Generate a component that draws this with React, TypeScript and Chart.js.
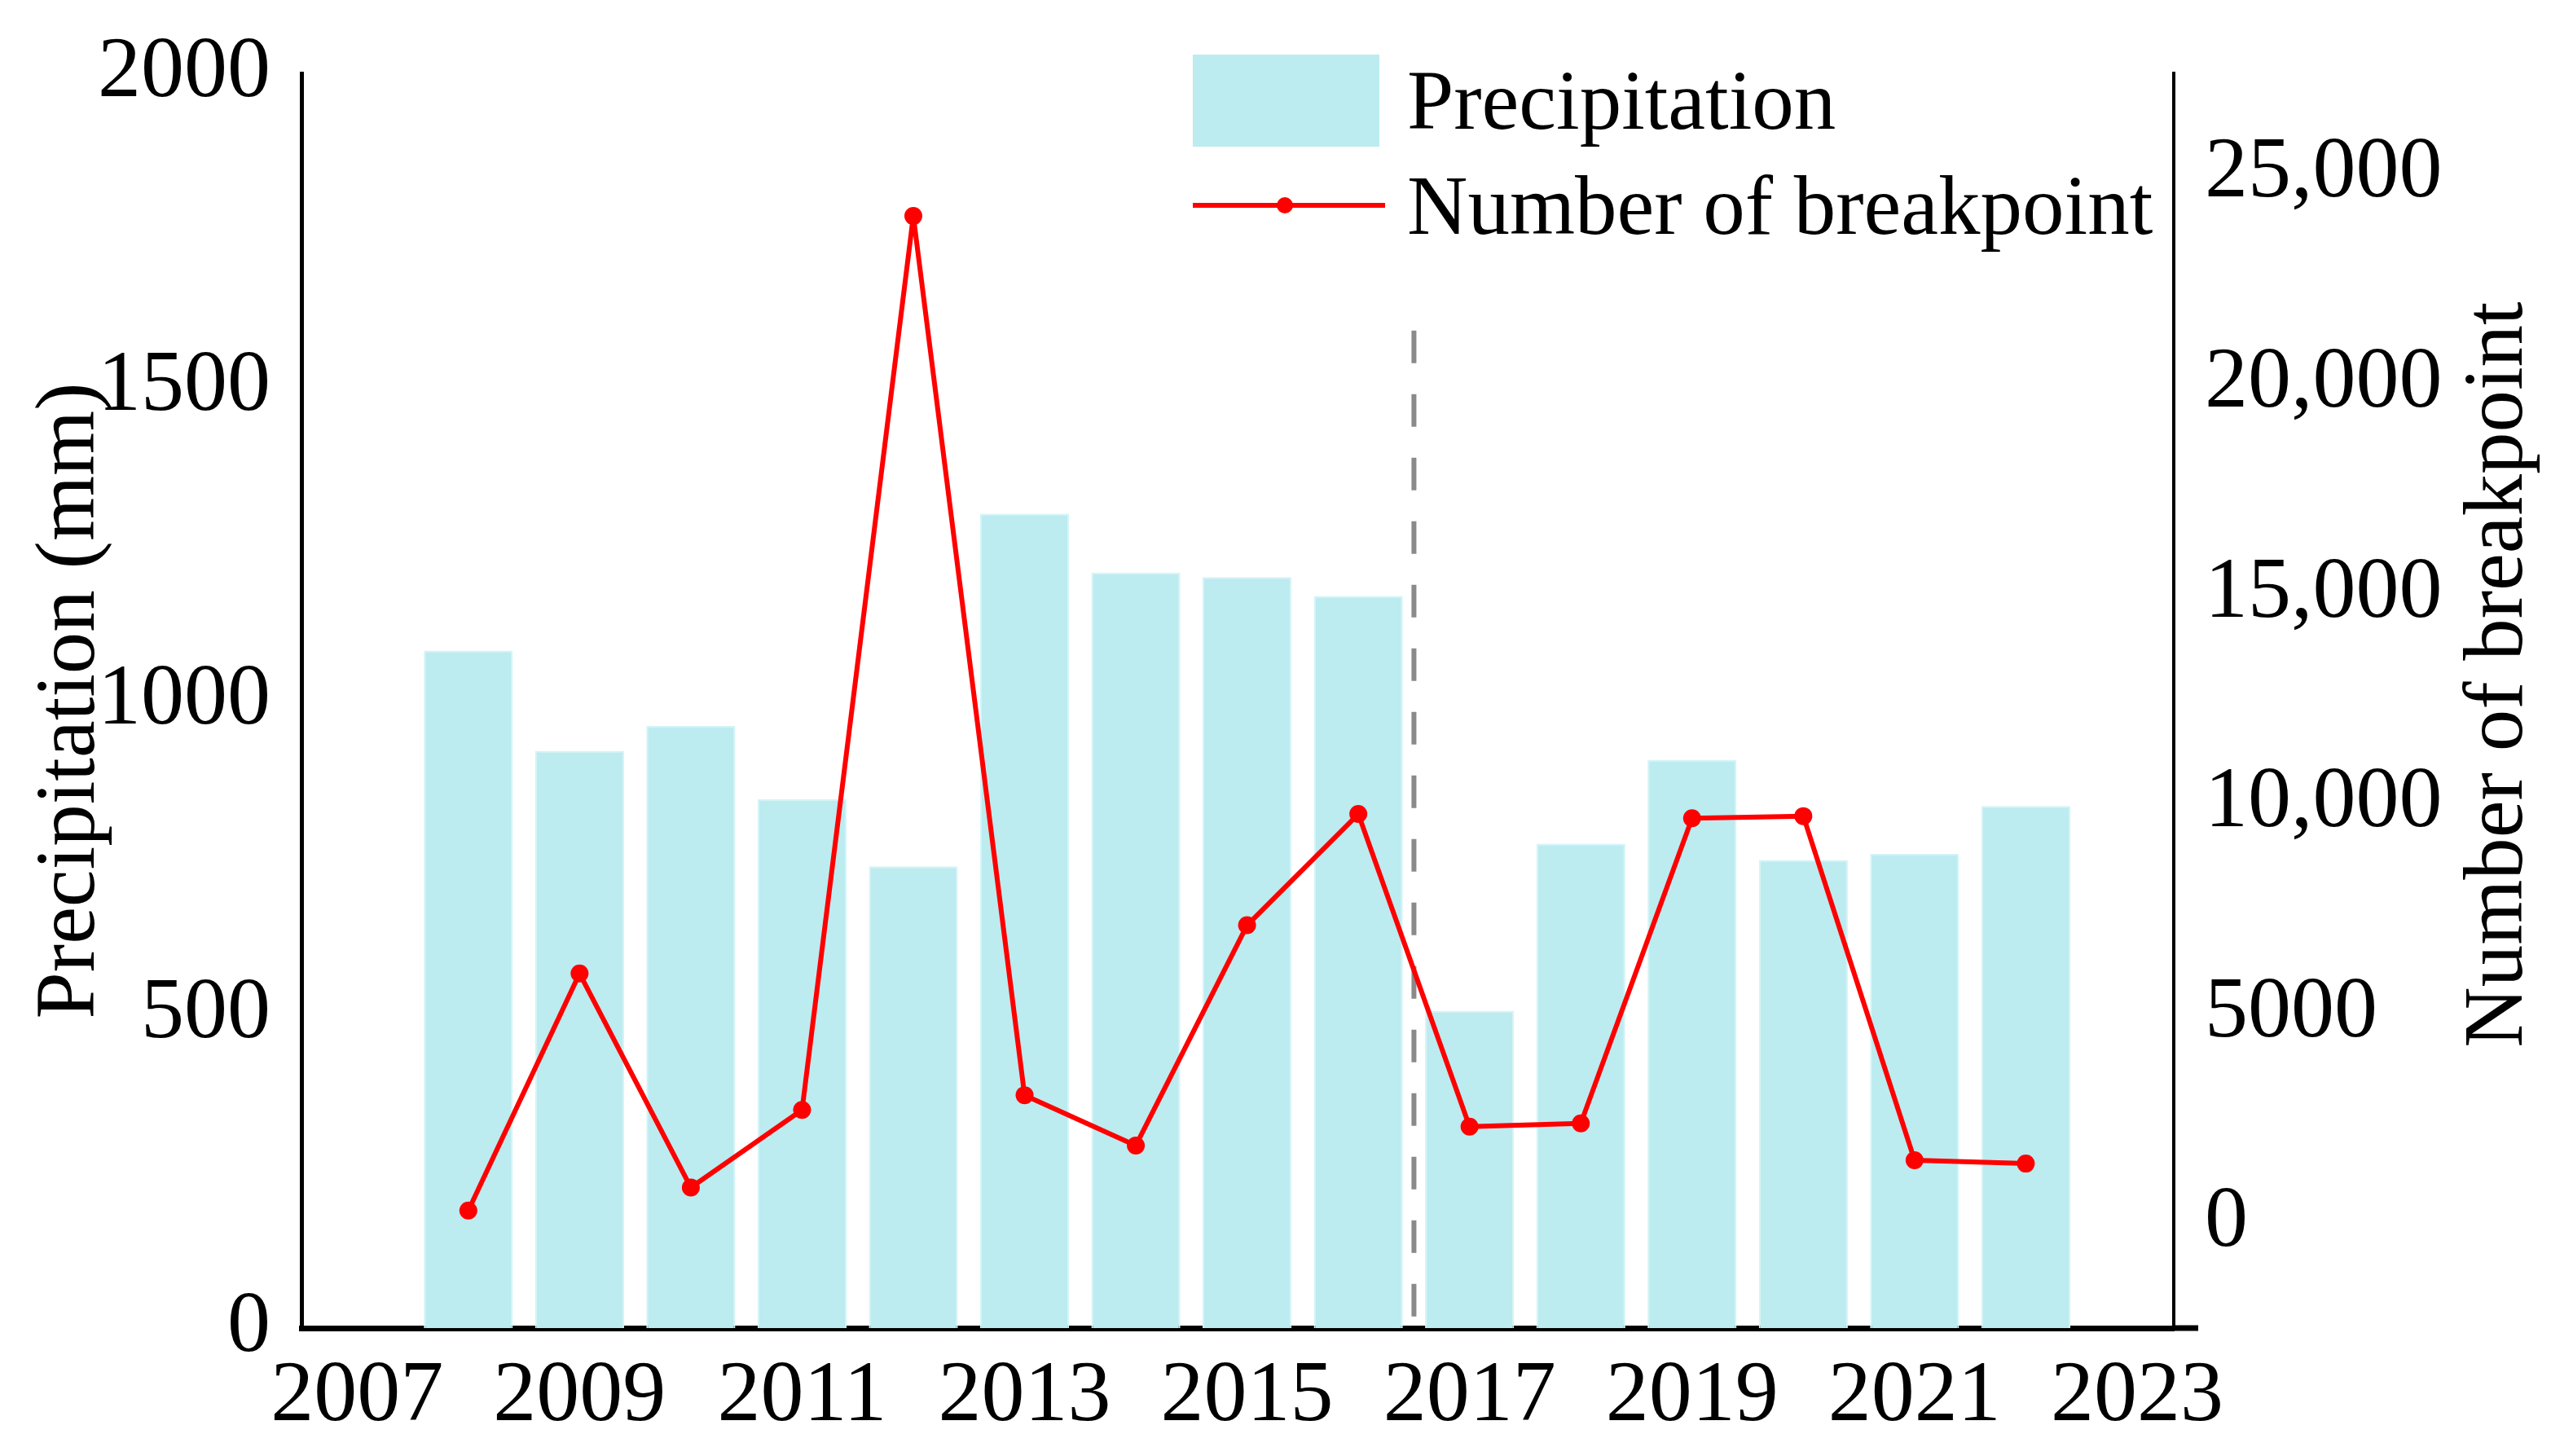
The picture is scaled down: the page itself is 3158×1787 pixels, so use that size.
import { useEffect, useRef } from "react";
import { Chart, registerables, type Plugin } from "chart.js";

Chart.register(...registerables);

// ── Data ──────────────────────────────────────────────────────────────────────
const YEARS = [2008, 2009, 2010, 2011, 2012, 2013, 2014, 2015, 2016, 2017, 2018, 2019, 2020, 2021, 2022];
const PRECIPITATION = [1080, 920, 960, 843, 736, 1298, 1204, 1197, 1167, 506, 772, 906, 746, 756, 832];
const BREAKPOINTS = [300, 5950, 850, 2700, 24000, 3050, 1850, 7100, 9750, 2300, 2380, 9650, 9700, 1500, 1420];

const X_TICKS = [2007, 2009, 2011, 2013, 2015, 2017, 2019, 2021, 2023];
const LEFT_TICKS = [0, 500, 1000, 1500, 2000];
const RIGHT_TICKS = [0, 5000, 10000, 15000, 20000, 25000];
const RIGHT_TICK_LABELS = ["0", "5000", "10,000", "15,000", "20,000", "25,000"];

const SPLIT_YEAR = 2016.5; // dashed divider
const SPLIT_TOP = 1590; // mm, top of the divider on the left axis

const LEFT_TITLE = "Precipitation (mm)";
const RIGHT_TITLE = "Number of breakpoint";

// ── Style ─────────────────────────────────────────────────────────────────────
const FONT = "'Liberation Serif', 'Times New Roman', serif";
const TICK_SIZE = 106;
const TEXT_SIZE = 103;
const BAR_COLOR = "#bcebf0";
const LINE_COLOR = "#ff0000";

// ── Extra drawing: divider, axis titles, legend ───────────────────────────────
const extrasPlugin: Plugin = {
  id: "extras",
  beforeDatasetsDraw(chart) {
    const { ctx, scales } = chart as any;
    const x = scales.x.getPixelForValue(SPLIT_YEAR);
    ctx.save();
    ctx.beginPath();
    ctx.moveTo(x, scales.y.getPixelForValue(SPLIT_TOP));
    ctx.lineTo(x, scales.y.getPixelForValue(0));
    ctx.strokeStyle = "#8a8a8a";
    ctx.lineWidth = 6;
    ctx.setLineDash([40, 38]);
    ctx.stroke();
    ctx.restore();
  },
  afterDraw(chart) {
    const { ctx, chartArea } = chart as any;
    const ds = chart.data.datasets;
    ctx.save();

    // x axis runs a little past the right axis
    ctx.beginPath();
    ctx.moveTo(chartArea.right - 2, chartArea.bottom);
    ctx.lineTo(chartArea.right + 30, chartArea.bottom);
    ctx.strokeStyle = "#000";
    ctx.lineWidth = 7;
    ctx.stroke();

    ctx.fillStyle = "#000";
    ctx.font = `${TEXT_SIZE}px ${FONT}`;
    ctx.textBaseline = "alphabetic";

    // axis titles, both reading bottom-to-top
    ctx.textAlign = "center";
    ctx.save();
    ctx.translate(115, 860);
    ctx.rotate(-Math.PI / 2);
    ctx.fillText(LEFT_TITLE, 0, 0);
    ctx.restore();
    ctx.save();
    ctx.translate(3095, 828);
    ctx.rotate(-Math.PI / 2);
    ctx.fillText(RIGHT_TITLE, 0, 0);
    ctx.restore();

    // legend
    ctx.textAlign = "left";
    ctx.fillStyle = BAR_COLOR;
    ctx.fillRect(1464, 67, 229, 113);
    ctx.fillStyle = "#000";
    ctx.fillText(String(ds[0].label), 1727, 158);

    ctx.beginPath();
    ctx.moveTo(1464, 252);
    ctx.lineTo(1700, 252);
    ctx.strokeStyle = LINE_COLOR;
    ctx.lineWidth = 6;
    ctx.stroke();
    ctx.beginPath();
    ctx.arc(1577, 252, 10, 0, Math.PI * 2);
    ctx.fillStyle = LINE_COLOR;
    ctx.fill();
    ctx.fillStyle = "#000";
    ctx.fillText(String(ds[1].label), 1727, 287);

    ctx.restore();
  },
};

export default function App() {
  const canvasRef = useRef<HTMLCanvasElement>(null);

  useEffect(() => {
    document.body.style.margin = "0";
    const canvas = canvasRef.current;
    if (!canvas) return;

    const tickFont = { family: FONT, size: TICK_SIZE };
    // let the layout padding alone decide where the plot area starts
    const fixY = (width: number) => (scale: any) => {
      scale.width = width;
      scale.paddingTop = 0;
      scale.paddingBottom = 0;
    };

    const chart = new Chart(canvas, {
      type: "bar",
      plugins: [extrasPlugin],
      data: {
        datasets: [
          {
            type: "bar",
            label: "Precipitation",
            data: YEARS.map((x, i) => ({ x, y: PRECIPITATION[i] })),
            backgroundColor: BAR_COLOR,
            borderColor: "#d4f4f7",
            borderWidth: 2,
            barPercentage: 0.8,
            categoryPercentage: 1,
            xAxisID: "x",
            yAxisID: "y",
            order: 2,
          },
          {
            type: "line",
            label: "Number of breakpoint",
            data: YEARS.map((x, i) => ({ x, y: BREAKPOINTS[i] })),
            borderColor: LINE_COLOR,
            borderWidth: 6,
            borderJoinStyle: "round",
            pointRadius: 11,
            pointBackgroundColor: LINE_COLOR,
            pointBorderWidth: 0,
            tension: 0,
            xAxisID: "x",
            yAxisID: "y2",
            order: 1,
          },
        ],
      } as any,
      options: {
        responsive: true,
        maintainAspectRatio: false,
        animation: false,
        layout: { padding: { top: 90, left: 0, right: 0, bottom: 0 } },
        plugins: {
          legend: { display: false },
          tooltip: { enabled: false },
        },
        scales: {
          x: {
            type: "linear",
            min: 2006.5,
            max: 2023.33,
            offset: false,
            grid: { display: false, drawTicks: false, offset: false },
            border: { display: true, color: "#000", width: 7 },
            afterBuildTicks: (scale: any) => {
              scale.ticks = X_TICKS.map((value) => ({ value }));
            },
            afterFit: (scale: any) => {
              scale.height = 157;
              scale.paddingLeft = 0;
              scale.paddingRight = 0;
            },
            ticks: {
              color: "#000",
              font: tickFont,
              padding: 22,
              maxRotation: 0,
              autoSkip: false,
              callback: (v: any) => String(v),
            },
          },
          y: {
            type: "linear",
            position: "left",
            min: 0,
            max: 2000,
            grid: { display: false, drawTicks: false },
            border: { display: true, color: "#000", width: 5 },
            afterBuildTicks: (scale: any) => {
              scale.ticks = LEFT_TICKS.map((value) => ({ value }));
            },
            afterFit: fixY(370),
            ticks: {
              color: "#000",
              font: tickFont,
              padding: 38,
              callback: (v: any) => String(v),
            },
          },
          y2: {
            type: "linear",
            position: "right",
            min: -2500,
            max: 27400,
            grid: { display: false, drawTicks: false },
            border: { display: true, color: "#000", width: 4 },
            afterBuildTicks: (scale: any) => {
              scale.ticks = RIGHT_TICKS.map((value) => ({ value }));
            },
            afterFit: fixY(490),
            ticks: {
              color: "#000",
              font: tickFont,
              padding: 38,
              callback: (v: any) => RIGHT_TICK_LABELS[RIGHT_TICKS.indexOf(Number(v))] ?? "",
            },
          },
        },
      } as any,
    });

    return () => chart.destroy();
  }, []);

  return (
    <div style={{ position: "relative", width: 3158, height: 1787, background: "#fff" }}>
      <canvas ref={canvasRef} style={{ display: "block" }} />
    </div>
  );
}
